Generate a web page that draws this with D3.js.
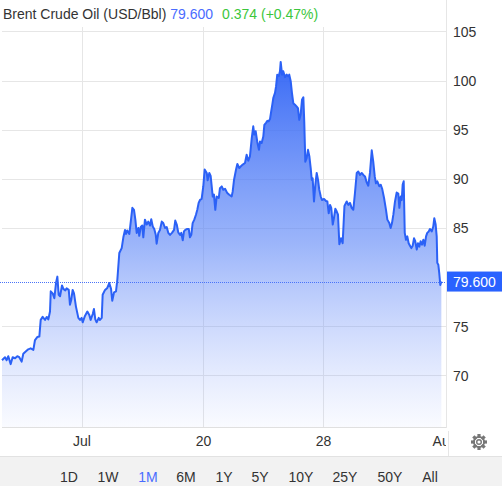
<!DOCTYPE html>
<html><head><meta charset="utf-8">
<script src="https://cdn.jsdelivr.net/npm/d3@7"></script>
<style>
html,body{margin:0;padding:0;background:#fff;overflow:hidden}
svg{display:block;font-family:"Liberation Sans",Arial,sans-serif}
</style></head>
<body><svg id="c" width="502" height="486"></svg>
<script>
// ---- data ----
const title = "Brent Crude Oil (USD/Bbl)";
const lastPrice = "79.600";
const change = "0.374 (+0.47%)";
// bar index (approx. trading sessions) and price
const sessions = [0,2,3.1,4.2,5.8,7.1,8.7,10.2,11.5,13.1,14.2,16,17.5,19.1,20.9,22,23.5,24.9,25.8,27.1,28.7,29.8,30.9,32,32.5,33.8,34.9,36,36.9,37.8,38.7,40,40.9,42.2,43.1,44.5,45.3,46.2,47.1,48,49.3,50.9,52,53.1,53.8,55.3,56.9,58.2,59.1,60.5,61.3,62.2,63.1,64.5,65.3,66.5,67.1,68.7,70.2,71.5,72.7,73.5,74.7,76,76.9,78.2,79.8,80.9,82,82.7,83.5,84.9,86,86.9,88,88.9,89.8,90.9,91.5,92.5,93.5,94.2,95.3,96.5,97.5,98.7,99.5,100.5,101.5,102.5,103.1,104.2,105.3,106.5,107.5,108.7,109.8,110.9,112,113.3,114.7,115.5,116.5,117.5,118.7,119.5,120.5,121.3,122.2,123.5,124.5,125.3,126.2,127.1,128.2,129.3,130.2,131.1,132,133.1,134.2,135.1,136.5,137.1,138.2,139.1,140.5,141.3,142.2,143.1,144.5,145.3,146.5,147.5,148.7,150.2,151.5,153.1,153.8,154.7,156,156.9,158.2,159.1,160.5,162,163.1,164.2,165.3,166.5,167.5,168.2,169.1,170.2,171.3,172,173.1,174.2,174.9,176,176.9,177.8,178.7,179.3,180.2,180.9,182,182.7,183.5,184.5,185.3,185.8,186.7,187.5,188.7,189.8,190.9,191.5,192.5,193.3,194.2,195.3,196.5,197.3,198.2,199.1,200,200.9,201.5,202.2,203.1,204,204.9,205.8,206.5,207.1,208,208.9,209.8,210.7,211.5,212.5,213.3,214.7,216,216.9,217.8,218.7,219.5,220.5,221.3,222.2,223.1,224,224.9,226,227.1,228.3,229.8,230.9,232,233.1,234.2,235.3,236.5,237.5,238.7,239.8,240.9,242,243.1,244.2,245.3,246.5,247.5,248.5,249.3,250.2,251.5,252.5,253.5,254.7,256,256.9,258.2,259.1,260,260.9,262,263.1,264.2,264.9,265.8,266.5,267.1,267.8,268.5,269.3,270.2,271.1,272,272.9,273.8,274.7,275.5,276.5,277.3,278.2,279.1,280,280.9,281.8,282.7,283.5,284.5,285.3,286.5,287.5,288.2,289.1,289.8,290.2,290.9,291.5,292.2,292.9];
const prices = [71.6,71.9,71.6,72.0,71.2,71.9,71.8,72.0,71.9,71.45,72.25,72.5,72.7,72.8,72.65,73.65,73.95,74.0,75.7,76.0,75.7,76.0,75.75,76.55,78.6,78.4,77.9,79.45,80.1,78.25,78.1,79.2,78.85,78.7,78.9,78.75,77.25,77.75,78.75,78.4,77.05,75.9,75.7,75.9,75.45,76.1,76.55,76.2,75.7,76.3,76.8,75.75,75.45,75.9,75.7,75.9,78.25,78.75,78.95,79.45,78.85,77.65,78.5,78.6,79.8,82.5,83.0,84.1,84.85,84.45,84.8,84.45,85.9,87.1,86.9,85.9,84.55,85.05,84.25,85.15,85.3,84.1,85.9,85.4,85.7,85.3,85.95,85.2,84.95,84.35,83.45,84.55,84.85,85.7,85.55,85.05,85.15,84.55,84.35,84.55,84.85,85.8,85.4,84.6,84.35,84.55,83.8,84.7,84.85,84.95,84.95,84.1,84.35,85.55,85.9,86.4,86.9,87.6,87.9,88.0,89.3,91.0,90.65,89.9,90.65,90.35,88.25,88.45,86.9,88.25,88.1,89.1,89.28,88.94,89.04,88.6,88.43,88.26,88.77,89.96,90.98,91.56,91.15,91.3,91.5,91.66,92.5,91.9,92.33,94.2,95.4,94.55,94.9,93.8,93.0,93.85,93.7,94.35,95.55,95.75,95.95,95.9,96.15,96.75,97.6,98.3,98.8,99.45,100.65,100.5,101.0,101.95,100.65,101.0,100.4,100.65,100.5,100.65,99.95,98.8,97.75,97.6,97.4,97.25,96.05,96.6,98.1,98.35,95.9,91.8,92.15,93.0,92.35,91.15,89.95,90.1,87.75,89.45,90.65,89.95,88.95,88.25,87.9,88.0,87.8,87.75,86.55,87.4,87.1,85.4,86.05,87.0,86.75,86.4,83.4,84.0,83.5,87.3,87.75,87.4,87.6,87.1,86.9,88.6,90.65,90.8,90.45,90.65,90.45,90.3,89.7,89.35,90.65,92.95,91.8,90.3,89.6,89.8,89.3,89.45,89.0,88.1,86.9,85.9,85.55,85.05,85.55,86.4,87.75,88.65,88.55,87.1,88.25,87.9,89.45,89.8,84.55,83.85,84.2,83.5,83.25,83.0,83.25,84.0,83.7,82.85,83.5,83.15,83.7,83.35,83.85,83.25,84.2,84.55,84.7,84.95,84.7,85.2,86.05,85.4,84.2,81.5,81.3,80.45,79.25,79.6];
const yTicks = [70,75,80,85,90,95,100,105];
const xTickLabels = ["Jul","20","28","Aug"];
const xTickSessions = [53,134,214,295];
const ranges = ["1D","1W","1M","6M","1Y","5Y","10Y","25Y","50Y","All"];
const activeRange = "1M";

// ---- layout ----
const L = 2, R = 446, T = 27, B = 427;
const svg = d3.select("#c");
const x = d3.scaleLinear().domain([0,296]).range([L,R]);
const y = d3.scaleLinear().domain([64.8,105.5]).range([B,T]);
const data = sessions.map((s,i)=>({s, v: prices[i]}));

const defs = svg.append("defs");
const grad = defs.append("linearGradient").attr("id","g").attr("gradientUnits","userSpaceOnUse")
  .attr("x1",0).attr("x2",0).attr("y1",y(102)).attr("y2",B);
grad.append("stop").attr("offset","0").attr("stop-color","#2e62f5").attr("stop-opacity",0.95);
grad.append("stop").attr("offset","0.5").attr("stop-color","#5a84f7").attr("stop-opacity",0.6);
grad.append("stop").attr("offset","1").attr("stop-color","#8fa9fb").attr("stop-opacity",0.05);
defs.append("clipPath").attr("id","plotclip").append("rect").attr("x",0).attr("y",0).attr("width",R).attr("height",B);
// clip in the x-axis group's local coordinates
defs.append("clipPath").attr("id","xclip").append("rect").attr("x",0).attr("y",1).attr("width",R).attr("height",28);

// gridlines
const yTicksShown = yTicks.filter(t=>t!==80);
svg.append("g").selectAll("line").data(yTicksShown).join("line")
  .attr("x1",L).attr("x2",R).attr("y1",d=>y(d)).attr("y2",d=>y(d))
  .attr("stroke","#e6e6e6").attr("stroke-width",1).attr("shape-rendering","crispEdges");
svg.append("g").selectAll("line").data(xTickSessions.slice(0,3)).join("line")
  .attr("x1",d=>Math.round(x(d))+0.5).attr("x2",d=>Math.round(x(d))+0.5).attr("y1",T).attr("y2",B)
  .attr("stroke","#e6e6e6").attr("stroke-width",1);

// area + line
const g = svg.append("g").attr("clip-path","url(#plotclip)");
g.append("path").datum(data)
  .attr("d", d3.area().x(d=>x(d.s)).y0(B).y1(d=>y(d.v)))
  .attr("fill","url(#g)");
g.append("path").datum(data)
  .attr("d", d3.line().x(d=>x(d.s)).y(d=>y(d.v)))
  .attr("fill","none").attr("stroke","#2b61f6").attr("stroke-width",2).attr("stroke-linejoin","round");

// last price dotted line
const lastV = prices[prices.length-1];
svg.append("line").attr("x1",0).attr("x2",R).attr("y1",Math.round(y(lastV))+0.5).attr("y2",Math.round(y(lastV))+0.5)
  .attr("stroke","#4a74f8").attr("stroke-width",1).attr("stroke-dasharray","1,1");

// axes frame lines
svg.append("line").attr("x1",L).attr("x2",R).attr("y1",B+0.5).attr("y2",B+0.5).attr("stroke","#e0e0e0");
svg.append("line").attr("x1",R+0.5).attr("x2",R+0.5).attr("y1",0).attr("y2",B+1).attr("stroke","#e6e6e6");
svg.append("line").attr("x1",R+2.5).attr("x2",R+2.5).attr("y1",B+4).attr("y2",456).attr("stroke","#e6e6e6");

// right axis via d3.axisRight
const yAxis = svg.append("g").attr("transform",`translate(${R},0)`)
  .call(d3.axisRight(y).tickValues(yTicksShown).tickSize(0).tickPadding(7).tickFormat(d3.format("d")));
yAxis.select(".domain").remove();
yAxis.selectAll("text").attr("font-size",14).attr("fill","#333").attr("font-family","Liberation Sans, Arial, sans-serif");

// last price label
const ly = y(lastV);
svg.append("rect").attr("x",R+1).attr("y",ly-10).attr("width",502-R-1).attr("height",20).attr("fill","#2962ff");
svg.append("text").attr("x",R+7).attr("y",ly+5).attr("font-size",14).attr("fill","#fff").text(lastPrice);

// bottom axis
const xAxis = svg.append("g").attr("transform",`translate(0,${B})`)
  .call(d3.axisBottom(x).tickValues(xTickSessions).tickSize(0).tickPadding(9).tickFormat((d,i)=>xTickLabels[i]));
xAxis.select(".domain").remove();
xAxis.selectAll("text").attr("font-size",14).attr("fill","#333").attr("font-family","Liberation Sans, Arial, sans-serif");
xAxis.attr("clip-path","url(#xclip)");

// gear icon
const gear = svg.append("g").attr("transform","translate(479,442)");
const teeth = d3.range(8);
gear.selectAll("rect").data(teeth).join("rect")
  .attr("x",-1.6).attr("y",-8).attr("width",3.2).attr("height",4).attr("fill","#777")
  .attr("transform",d=>`rotate(${d*45})`);
gear.append("circle").attr("r",5.2).attr("fill","none").attr("stroke","#777").attr("stroke-width",1.8);
gear.append("circle").attr("r",2.3).attr("fill","none").attr("stroke","#777").attr("stroke-width",1.4);

// range bar
svg.append("rect").attr("x",0).attr("y",456).attr("width",502).attr("height",30).attr("fill","#f2f2f2");
svg.append("line").attr("x1",0).attr("x2",502).attr("y1",456.5).attr("y2",456.5).attr("stroke","#e2e2e2");
const rangeX = [69,108,148,186,224,260,301,345,390,430];
svg.append("g").selectAll("text").data(ranges).join("text")
  .attr("x",(d,i)=>rangeX[i]).attr("y",482).attr("text-anchor","middle").attr("font-size",14)
  .attr("fill",d=>d===activeRange?"#4a6cff":"#333").text(d=>d);

// title
const t = svg.append("text").attr("x",3).attr("y",19).attr("font-size",14);
t.append("tspan").attr("fill","#333").text(title+" ");
t.append("tspan").attr("fill","#4a6cff").text(lastPrice);
t.append("tspan").attr("fill","#3cc63c").attr("dx",9).text(change);
</script></body></html>
